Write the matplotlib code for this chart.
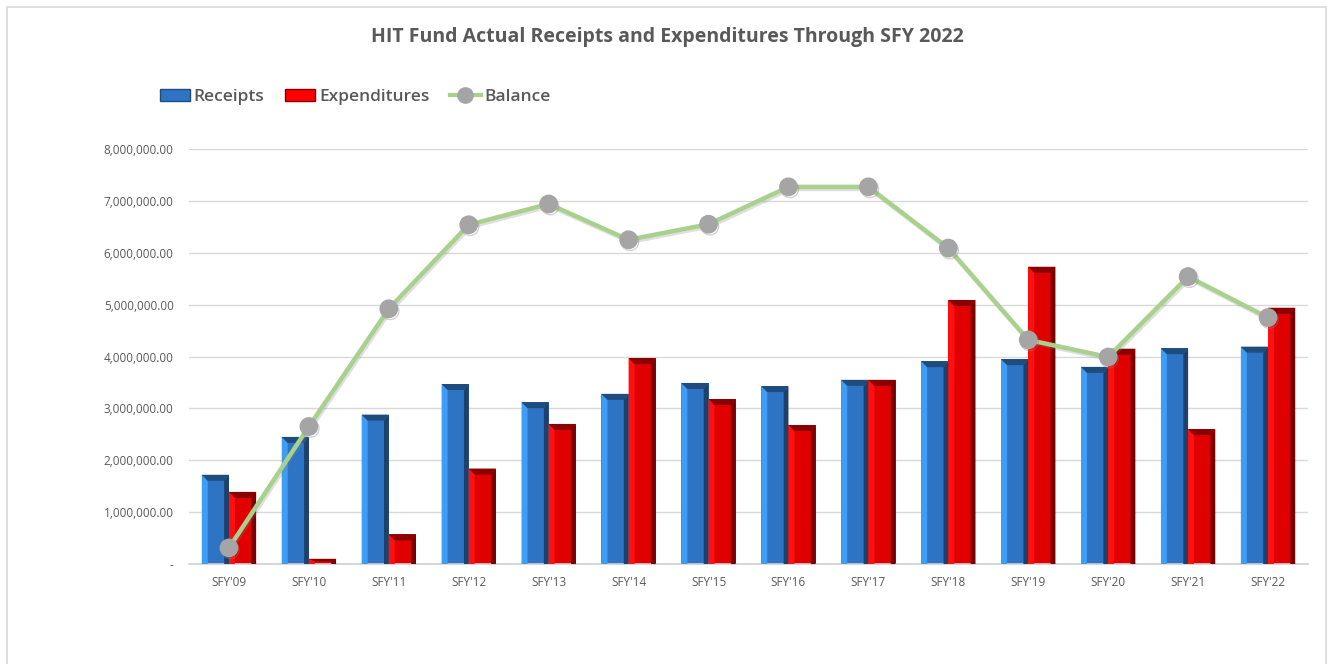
import matplotlib
matplotlib.use("Agg")
import matplotlib.pyplot as plt
from matplotlib.patches import Polygon, Rectangle, Patch
from matplotlib.lines import Line2D
import matplotlib.patheffects as pe
import numpy as np

categories = ["SFY'09", "SFY'10", "SFY'11", "SFY'12", "SFY'13", "SFY'14", "SFY'15",
              "SFY'16", "SFY'17", "SFY'18", "SFY'19", "SFY'20", "SFY'21", "SFY'22"]
receipts = [1720000, 2450000, 2880000, 3470000, 3120000, 3280000, 3490000,
            3430000, 3550000, 3910000, 3950000, 3800000, 4160000, 4190000]
expenditures = [1390000, 100000, 570000, 1840000, 2700000, 3970000, 3180000,
                2680000, 3550000, 5090000, 5730000, 4150000, 2600000, 4940000]
balance = [310000, 2650000, 4920000, 6540000, 6940000, 6250000, 6550000,
           7270000, 7270000, 6090000, 4320000, 3990000, 5540000, 4750000]
yticks = [0, 1e6, 2e6, 3e6, 4e6, 5e6, 6e6, 7e6, 8e6]

W, H = 1327, 664
fig = plt.figure(figsize=(W / 100, H / 100), dpi=100)
fig.patch.set_facecolor("white")

# outer chart border
fig.add_artist(Rectangle((6.5 / W, -0.01), (1326 - 6.5) / W, 1 - 7 / H + 0.01,
                         transform=fig.transFigure, fill=False,
                         edgecolor="#D9D9D9", linewidth=1.2))

ax_l, ax_r, ax_b, ax_t = 189, 1308, 564, 149
ax = fig.add_axes([ax_l / W, (H - ax_b) / H, (ax_r - ax_l) / W, (ax_b - ax_t) / H])

x = np.arange(len(categories))
bw = 0.34
ymax = 8e6
ax.set_xlim(-0.5, len(categories) - 0.5)
ax.set_ylim(0, ymax)

# bevel sizes in data units (from pixel sizes)
px_x = 1.0 / ((ax_r - ax_l) / len(categories))
px_y = ymax / (ax_b - ax_t)
bx = 6 * px_x
by_ = 6 * px_y


def bevel_bars(xs, vals, main, light, dark, top):
    ax.bar(xs, vals, width=bw, color=main, edgecolor="none", zorder=2)
    for xc, h in zip(xs, vals):
        xl, xr = xc - bw / 2, xc + bw / 2
        by = min(by_, h / 2)
        ax.add_patch(Polygon([(xl, 0), (xl, h), (xl + bx, h - by), (xl + bx, 0)],
                             closed=True, facecolor=light, edgecolor="none", zorder=3))
        ax.add_patch(Polygon([(xr, 0), (xr, h), (xr - bx * 0.8, h - by), (xr - bx * 0.8, 0)],
                             closed=True, facecolor=dark, edgecolor="none", zorder=3))
        ax.add_patch(Polygon([(xl, h), (xr, h), (xr - bx * 0.8, h - by), (xl + bx, h - by)],
                             closed=True, facecolor=top, edgecolor="none", zorder=3))


bevel_bars(x - bw / 2, receipts, "#2E74C4", "#3F9DF6", "#1E416B", "#1F4C7D")
bevel_bars(x + bw / 2, expenditures, "#E00000", "#FF1010", "#7A0000", "#8A0000")

ax.plot(x, balance, color="#A9D18E", linewidth=3.2, zorder=5,
        path_effects=[pe.SimpleLineShadow(offset=(1, -1.5), shadow_color="gray", alpha=0.25), pe.Normal()])
ax.plot(x, balance, linestyle="none", marker="o", markersize=12.5,
        markerfacecolor="#A5A5A5", markeredgecolor="#A5A5A5", zorder=6,
        path_effects=[pe.SimpleLineShadow(offset=(1, -1.5), shadow_color="gray", alpha=0.35), pe.Normal()])

# grid & axes styling
ax.set_yticks(yticks)
ax.set_yticklabels(["-" if v == 0 else f"{v:,.2f}" for v in yticks])
ax.yaxis.grid(True, color="#D9D9D9", linewidth=1.0, zorder=0)
ax.set_axisbelow(True)
for s in ["top", "right", "left"]:
    ax.spines[s].set_visible(False)
ax.spines["bottom"].set_color("#D0D0D0")
ax.spines["bottom"].set_linewidth(1.2)
ax.set_xticks(x)
ax.set_xticklabels(categories)
ax.tick_params(axis="both", length=0, colors="#595959", labelsize=8.5)
ax.tick_params(axis="y", pad=11)
ax.tick_params(axis="x", pad=9)
for lab in ax.get_xticklabels() + ax.get_yticklabels():
    lab.set_family("Open Sans")

fig.text(667 / W, 1 - 37 / H, "HIT Fund Actual Receipts and Expenditures Through SFY 2022",
         ha="center", va="center", fontsize=14, fontweight="bold", color="#595959",
         family="Open Sans")

handles = [Patch(facecolor="#2E74C4", edgecolor="#1F4C7D"),
           Patch(facecolor="#FF0000", edgecolor="#8A0000"),
           Line2D([0], [0], color="#A9D18E", linewidth=3, marker="o", markersize=11,
                  markerfacecolor="#A5A5A5", markeredgecolor="#A5A5A5")]
leg = fig.legend(handles, ["Receipts", "Expenditures", "Balance"], loc="center left",
                 bbox_to_anchor=(144 / W, 1 - 97 / H), ncol=3, frameon=False,
                 handlelength=1.75, handleheight=0.7, handletextpad=0.2, columnspacing=1.2,
                 prop={"family": "Open Sans", "size": 12.5, "weight": "semibold"})
for t in leg.get_texts():
    t.set_color("#595959")

fig.savefig("out.png", dpi=100, facecolor="white")
